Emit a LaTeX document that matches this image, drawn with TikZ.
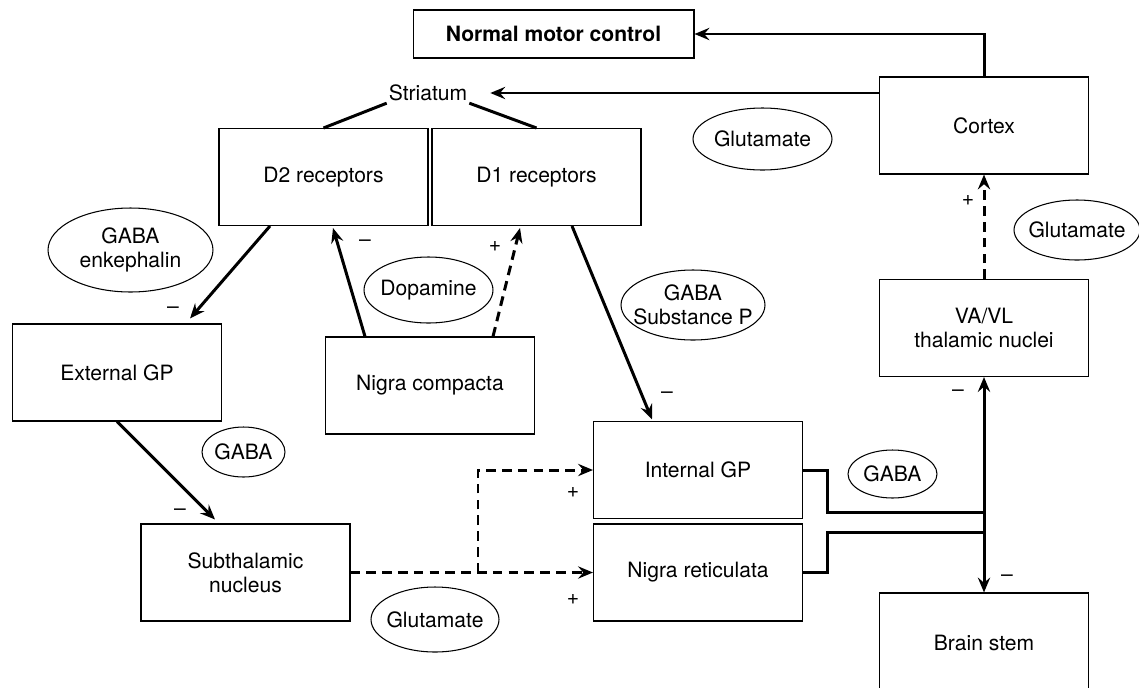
\documentclass[tikz,border=0pt]{standalone}
\usepackage{fontspec}
\setmainfont{TeX Gyre Heros}
\usetikzlibrary{arrows.meta,calc,positioning}
\tikzset{%
	box/.style       = {draw, rectangle, line width=0.6pt, minimum width=4.18cm, minimum height=1.94cm, inner sep=0pt, text centered, align=center},
	headbox/.style   = {draw, rectangle, line width=0.6pt, minimum width=5.62cm, minimum height=0.96cm, font=\fontsize{12}{13.5}\selectfont\bfseries},
	chem/.style      = {align=center, inner sep=0pt},
	sign/.style      = {inner sep=0pt},
	ring/.style      = {line width=0.6pt},
	link/.style      = {line width=1.7pt},
	arrow/.style     = {line width=1.7pt, -{Stealth[length=8.5pt,width=7pt,inset=3pt]}},
	dasharrow/.style = {arrow, dash pattern=on 5.5pt off 3.5pt},
}

\begin{document}
\begin{tikzpicture}[x=0.02cm, y=-0.02cm, every node/.style={font=\fontsize{12}{13.5}\selectfont}]
	\useasboundingbox (0,0) rectangle (1139,687);
	
	% boxes
	\node[headbox] (nmc) at (553.5,34) {Normal motor control};
	\node[box] (cortex) at (984,125.5) {Cortex};
	\node[box] (vavl) at (984,328) {VA/VL\\thalamic nuclei};
	\node[box, minimum height=2cm] (brain) at (984,643) {Brain stem};
	\node[box] (d2) at (323.5,177) {D2 receptors};
	\node[box] (d1) at (536.5,177) {D1 receptors};
	\node[box] (extgp) at (117,372.5) {External GP};
	\node[box] (ncomp) at (430,385.5) {Nigra compacta};
	\node[box] (subth) at (245.5,572.5) {Subthalamic\\nucleus};
	\node[box] (intgp) at (698,470) {Internal GP};
	\node[box] (nret) at (698,572.5) {Nigra reticulata};
	\node[inner sep=1pt] (stri) at (428,93) {Striatum};
	
	% transmitters
	\node[chem] (gabenk) at (130.5,250) {GABA\\enkephalin};
	\draw[ring] (gabenk) ellipse [x radius=1.65cm, y radius=0.84cm];
	\node[chem] (gabal) at (243.5,452) {GABA};
	\draw[ring] (gabal) ellipse [x radius=0.83cm, y radius=0.5cm];
	\node[chem] (dopa) at (428.5,290) {Dopamine};
	\draw[ring] (dopa) ellipse [x radius=1.29cm, y radius=0.66cm];
	\node[chem] (glutt) at (762.5,139) {Glutamate};
	\draw[ring] (glutt) ellipse [x radius=1.39cm, y radius=0.62cm];
	\node[chem] (gabsp) at (693,305) {GABA\\Substance P};
	\draw[ring] (gabsp) ellipse [x radius=1.44cm, y radius=0.7cm];
	\node[chem] (glutr) at (1077,230) {Glutamate};
	\draw[ring] (glutr) ellipse [x radius=1.26cm, y radius=0.6cm];
	\node[chem] (gabar) at (892.5,474) {GABA};
	\draw[ring] (gabar) ellipse [x radius=0.89cm, y radius=0.48cm];
	\node[chem] (glutb) at (435,619.5) {Glutamate};
	\draw[ring] (glutb) ellipse [x radius=1.28cm, y radius=0.65cm];
	
	% connections
	\draw[link] (stri.south west) -- (d2.north);
	\draw[link] (stri.south east) -- (d1.north);
	\draw[arrow] (cortex.west |- stri) -- ([xshift=0.42cm]stri.east);
	\draw[arrow] (cortex.north) |- (nmc.east);
	\draw[dasharrow] (vavl.north) -- (cortex.south);
	
	\coordinate (ja) at (984,512);
	\coordinate (jb) at (984,532);
	\draw[link] (intgp.east) -- ++(24,0) |- (ja);
	\draw[link] (nret.east) -- ++(24,0) |- (jb);
	\draw[arrow] (jb) -- (vavl.south);
	\draw[arrow] (ja) -- (brain.north);
	
	\coordinate (split) at (478,572.5);
	\draw[dasharrow] (subth.east) -- (nret.west);
	\draw[dasharrow] (split) |- (intgp.west);
	
	\draw[arrow] ($(d2.south)+(-53.5,0)$) -- ($(extgp.north)+(73,-5)$);
	\draw[arrow] (extgp.south) -- ($(subth.north)+(-30.5,-4)$);
	\draw[arrow] ($(ncomp.north)+(-65,0)$) -- ($(d2.south)+(9.5,2)$);
	\draw[dasharrow] ($(ncomp.north)+(63,0)$) -- ($(d1.south)+(-16.5,2)$);
	\draw[arrow] ($(d1.south)+(35.5,0)$) -- ($(intgp.north)+(-46,-1.5)$);
	
	% signs
	\node[sign] (s1) at (173,310) {--};
	\node[sign] (s2) at (180,512) {--};
	\node[sign] (s3) at (365,243) {--};
	\node[sign] (s4) at (495,246) {+};
	\node[sign] (s5) at (667,395) {--};
	\node[sign] (s6) at (573,492) {+};
	\node[sign] (s7) at (573,599) {+};
	\node[sign] (s8) at (958,393) {--};
	\node[sign] (s9) at (1007,578) {--};
	\node[sign] (s10) at (968,200) {+};
\end{tikzpicture}
\end{document}
